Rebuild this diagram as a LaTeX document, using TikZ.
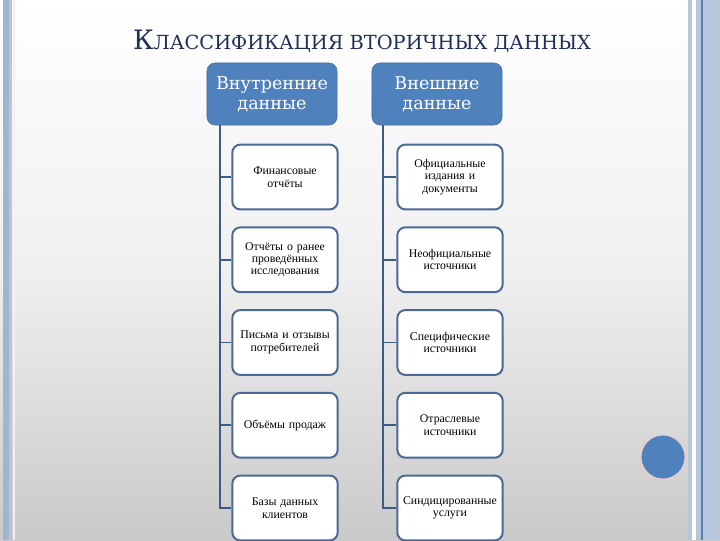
\documentclass[tikz,border=0pt]{standalone}
\usepackage{fontspec}
\setmainfont{Liberation Serif}
\newfontfamily\headfont{DejaVu Serif}
\usetikzlibrary{calc}
\definecolor{slateblue}{HTML}{4F81BD}
\definecolor{inkblue}{HTML}{1F3057}
\definecolor{edgeblue}{HTML}{4C6894}
\definecolor{linkblue}{HTML}{3E5A86}
\definecolor{stripe}{HTML}{B7C6DD}
\definecolor{stripedark}{HTML}{A3B4CE}

\begin{document}
\begin{tikzpicture}[x=0.025cm,y=-0.025cm,
			every node/.style={font=\fontsize{8.4}{8.8}\selectfont, color=black},
			head/.style={fill=slateblue, draw=slateblue!85!black, rounded corners=0.2cm, minimum width=3.25cm, minimum height=1.55cm, align=center, text=white, font=\headfont\fontsize{12.5}{14}\selectfont},
			item/.style={fill=white, draw=edgeblue, line width=1.4pt, rounded corners=0.2cm, minimum width=2.6cm, minimum height=1.62cm, align=center, text width=2.4cm},
			link/.style={draw=linkblue, line width=1.3pt}
		]
		\useasboundingbox (0,0) rectangle (720,540);
		\shade[top color=white, bottom color=gray!42, middle color=gray!12] (0,0) rectangle (720,540);
		\fill[stripedark] (3,0) rectangle (9,540);
		\fill[stripe] (9,0) rectangle (12,540);
		\fill[red!8] (13,0) rectangle (15,540);
		\fill[stripe] (688,0) rectangle (720,540);
		\fill[white] (692,0) rectangle (696,540);
		\draw[slateblue, line width=0.8pt] (702,0) -- (702,540);

		\node[font=\headfont\fontsize{19}{22}\selectfont, color=inkblue, anchor=base] (title) at (362,49) {К\fontsize{13.8}{16}\selectfont ЛАССИФИКАЦИЯ ВТОРИЧНЫХ ДАННЫХ};

		\node[head] (inner) at (272,94) {Внутренние\\данные};
		\node[head] (outer) at (437,94) {Внешние\\данные};

		\node[item] (in1) at (285,177) {Финансовые\\отчёты};
		\node[item] (in2) at (285,259.75) {Отчёты о ранее\\проведённых\\исследования};
		\node[item] (in3) at (285,342.5) {Письма и отзывы\\потребителей};
		\node[item] (in4) at (285,425.25) {Объёмы продаж};
		\node[item] (in5) at (285,508) {Базы данных\\клиентов};

		\node[item] (ex1) at (450,177) {Официальные\\издания и\\документы};
		\node[item] (ex2) at (450,259.75) {Неофициальные\\источники};
		\node[item] (ex3) at (450,342.5) {Специфические\\источники};
		\node[item] (ex4) at (450,425.25) {Отраслевые\\источники};
		\node[item] (ex5) at (450,508) {Синдицированные\\услуги};

		\foreach \i in {1,...,5} {
			\draw[link] ($(inner.south west)+(13,0)$) |- (in\i.west);
			\draw[link] ($(outer.south west)+(11,0)$) |- (ex\i.west);
		}

		\node[circle, fill=slateblue, draw=white!80!red, line width=0.6pt, minimum size=1.1cm, inner sep=0pt] (dot) at (663,457) {};
	\end{tikzpicture}
\end{document}
